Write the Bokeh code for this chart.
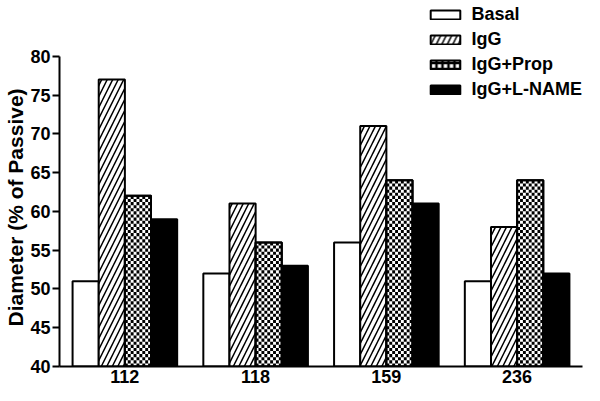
import numpy as np
from bokeh.plotting import figure
from bokeh.models import ColumnDataSource, FactorRange, Range1d, Legend, LegendItem, Title
from bokeh.transform import dodge
from bokeh.embed import file_html
from bokeh.resources import INLINE

categories = ["112", "118", "159", "236"]
series = ["Basal", "IgG", "IgG+Prop", "IgG+L-NAME"]
basal = [51, 52, 56, 51]
igg = [77, 61, 71, 58]
igg_prop = [62, 56, 64, 64]
igg_lname = [59, 53, 61, 52]
y_ticks = [40, 45, 50, 55, 60, 65, 70, 75, 80]

FONT = "Liberation Sans"
BASE = 40
W = 0.2

src = ColumnDataSource(dict(cat=categories, basal=basal, igg=igg, prop=igg_prop, lname=igg_lname))

p = figure(x_range=FactorRange(*categories), y_range=Range1d(BASE, 86.8), width=584, height=385,
           output_backend="svg", toolbar_location=None,
           min_border_left=58, min_border_right=2, min_border_top=3, min_border_bottom=0)
p.outline_line_color = None
p.grid.visible = False
p.x_range.range_padding = 0

common = dict(source=src, bottom=BASE, width=W, line_color="black", line_width=2)
r1 = p.vbar(x=dodge("cat", -0.3, range=p.x_range), top="basal", fill_color="white", **common)
r2 = p.vbar(x=dodge("cat", -0.1, range=p.x_range), top="igg", fill_color="white",
            hatch_pattern="/", hatch_color="black", hatch_scale=11, hatch_weight=1.5, **common)

# checkerboard texture for IgG+Prop, built from the bar values (synthetic categorical coords)
ncols, dy = 9, 0.4
ql, qr, qb, qt = [], [], [], []
for i, top in enumerate(igg_prop):
    x0 = i + 0.5
    nrows = int(np.ceil((top - BASE) / dy))
    for r in range(nrows):
        for c in range(ncols):
            if (r + c) % 2 == 0:
                ql.append(x0 + c * W / ncols)
                qr.append(x0 + (c + 1) * W / ncols)
                qb.append(BASE + r * dy)
                qt.append(min(BASE + (r + 1) * dy, top))
p.vbar(x=dodge("cat", 0.1, range=p.x_range), top="prop", fill_color="white", **common)
p.quad(left=ql, right=qr, bottom=qb, top=qt, fill_color="black", line_color=None)
p.vbar(x=dodge("cat", 0.1, range=p.x_range), top="prop", fill_color=None, **common)
# legend swatch stand-in (not drawn in the plot)
r3 = p.vbar(x=dodge("cat", 0.1, range=p.x_range), top="prop", fill_color="white",
            hatch_pattern="+", hatch_color="black", hatch_scale=6, hatch_weight=2.5,
            visible=False, **common)
r4 = p.vbar(x=dodge("cat", 0.3, range=p.x_range), top="lname", fill_color="black", **common)

p.yaxis.ticker = y_ticks
p.yaxis.bounds = (40, 80)
for ax in (p.xaxis, p.yaxis):
    ax.axis_line_width = 2
    ax.axis_line_color = "black"
    ax.major_label_text_font = FONT
    ax.major_label_text_font_style = "bold"
    ax.major_label_text_font_size = "18px"
    ax.major_label_text_color = "black"
    ax.minor_tick_line_color = None
p.yaxis.major_tick_line_width = 2
p.yaxis.major_tick_out = 7
p.yaxis.major_tick_in = 0
p.yaxis.major_label_standoff = 2
p.xaxis.major_tick_line_color = None
p.xaxis.major_tick_out = 0
p.xaxis.major_tick_in = 0
p.xaxis.major_label_standoff = 3

ylabel = Title(text="Diameter (% of Passive)", align="left", offset=40, standoff=2,
               text_font=FONT, text_font_style="bold", text_font_size="21px", text_color="black")
p.add_layout(ylabel, "left")

legend = Legend(items=[LegendItem(label=s, renderers=[r]) for s, r in zip(series, [r1, r2, r3, r4])],
                location="top_right")
legend.glyph_width = 37
legend.glyph_height = 11
legend.spacing = 3
legend.label_standoff = 8
legend.padding = 0
legend.margin = 0
legend.border_line_color = None
legend.background_fill_alpha = 0
legend.inactive_fill_alpha = 0
legend.label_text_font = FONT
legend.label_text_font_style = "bold"
legend.label_text_font_size = "18px"
legend.label_text_color = "black"
legend.label_height = 22
p.add_layout(legend, "center")

open("out.html", "w").write(file_html(p, INLINE))
